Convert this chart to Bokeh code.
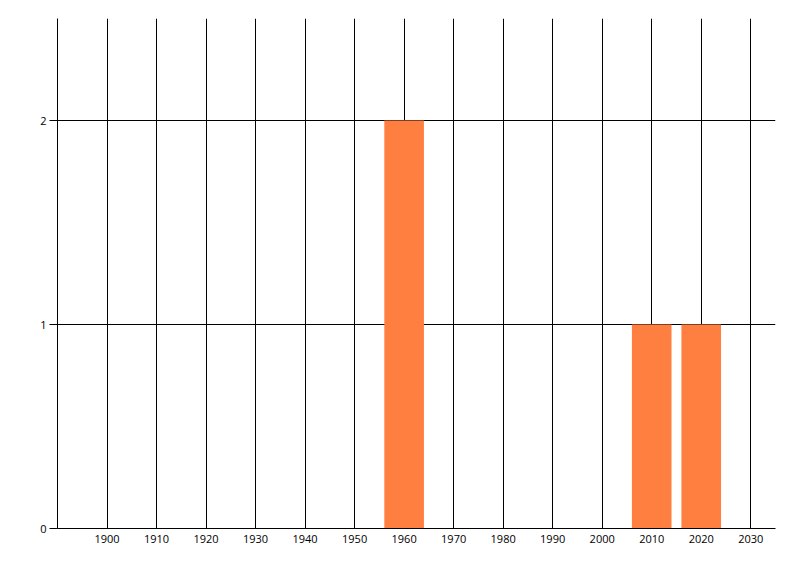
from bokeh.plotting import figure
from bokeh.models import FixedTicker, Range1d, ColumnDataSource
from bokeh.embed import file_html
from bokeh.resources import INLINE

years = [1960, 2010, 2020]
counts = [2, 1, 1]
x_ticks = [1900, 1910, 1920, 1930, 1940, 1950, 1960, 1970, 1980, 1990, 2000, 2010, 2020, 2030]
y_ticks = [0, 1, 2]

src = ColumnDataSource(dict(x=years, top=counts))

p = figure(width=792, height=568, output_backend="svg", toolbar_location=None,
           x_range=Range1d(1890, 2035), y_range=Range1d(0, 2.5),
           min_border_left=57, min_border_right=17, min_border_top=18, min_border_bottom=40)
p.outline_line_color = None
p.background_fill_color = "white"
p.border_fill_color = "white"

p.vbar(x="x", top="top", bottom=0, width=8, source=src, fill_color="#FF7F41", line_color=None)

p.xaxis.ticker = FixedTicker(ticks=x_ticks)
p.yaxis.ticker = FixedTicker(ticks=y_ticks)
p.xgrid.ticker = FixedTicker(ticks=x_ticks)
p.ygrid.ticker = FixedTicker(ticks=[1, 2])
for g in (p.xgrid, p.ygrid):
    g.grid_line_color = "black"
    g.grid_line_alpha = 1.0
    g.grid_line_width = 1

for ax in (p.xaxis, p.yaxis):
    ax.axis_line_color = "black"
    ax.axis_line_width = 1
    ax.major_tick_line_color = "black"
    ax.minor_tick_line_color = None
    ax.major_tick_in = 0
    ax.major_label_text_font = "Open Sans"
    ax.major_label_text_font_size = "11px"
    ax.major_label_text_color = "black"

p.xaxis.major_tick_out = 0
p.xaxis.major_label_standoff = 6
p.yaxis.major_tick_out = 8
p.yaxis.major_label_standoff = 3

open("out.html", "w").write(file_html(p, INLINE))
